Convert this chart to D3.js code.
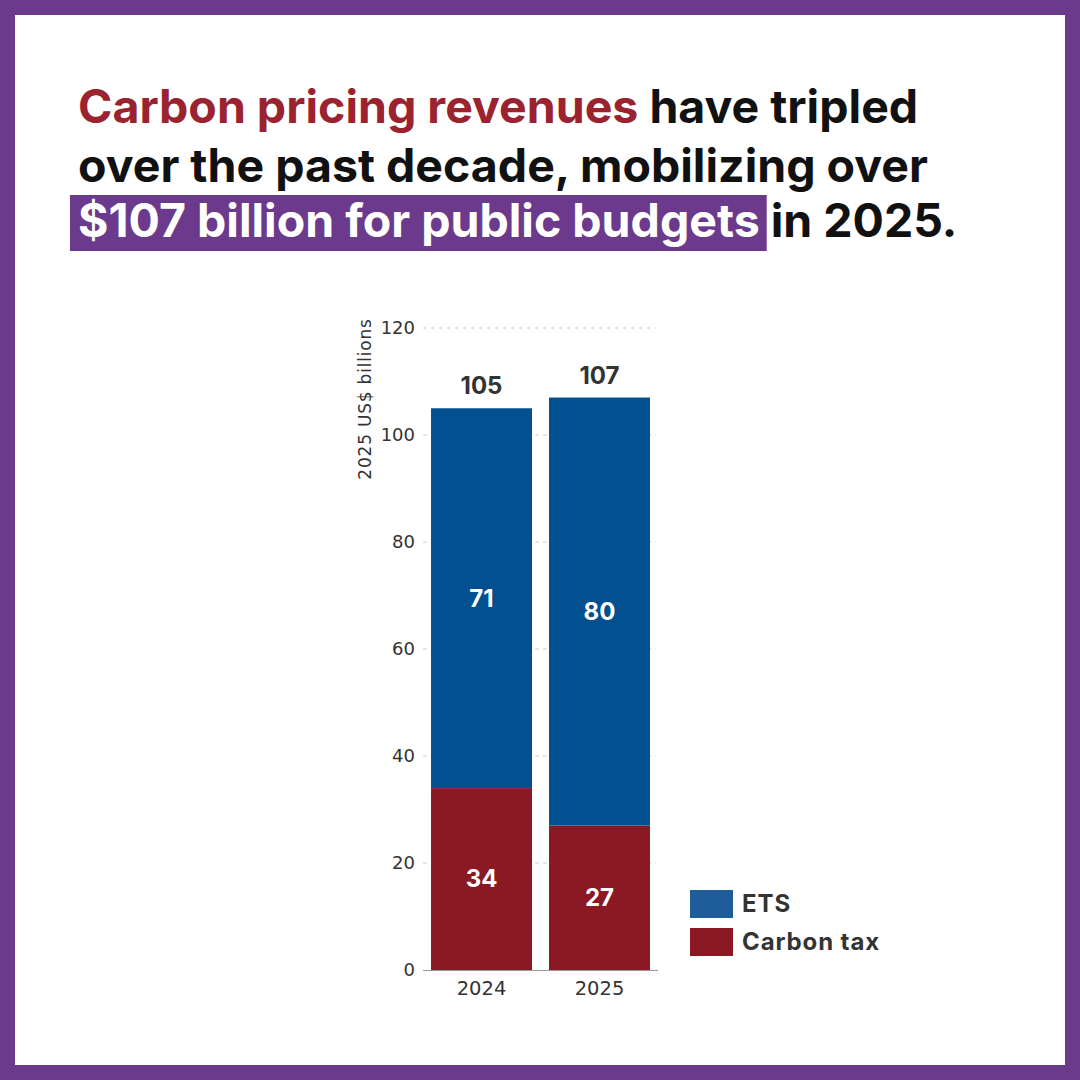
<!DOCTYPE html>
<html>
<head>
<meta charset="utf-8">
<script src="https://cdn.jsdelivr.net/npm/d3@7"></script>
<style>
  body { margin: 0; background: #fff; }
  svg { display: block; }
</style>
</head>
<body>
<div id="chart"></div>
<script>
// data
var years = ['2024', '2025'];
var carbonTax = [34, 27];
var ets = [71, 80];
var totals = [105, 107];
var yTicks = [0, 20, 40, 60, 80, 100, 120];
var seriesNames = ['ETS', 'Carbon tax'];

var W = 1080, H = 1080;
var purple = '#6c3a8c';
var red = '#8a1924';
var blue = '#02508f';
var font = 'Inter, "Open Sans", sans-serif';
var axisFont = '"DejaVu Sans", sans-serif';

var svg = d3.select('#chart').append('svg')
	.attr('width', W)
	.attr('height', H);

// purple frame
svg.append('rect').attr('width', W).attr('height', H).attr('fill', purple);
svg.append('rect').attr('x', 15).attr('y', 15).attr('width', W - 30).attr('height', H - 30).attr('fill', '#fff');

// title
var title = svg.append('g').attr('font-family', font).attr('font-weight', 700).attr('font-size', 46.5);
var l1 = title.append('text').attr('x', 78).attr('y', 123);
l1.append('tspan').attr('fill', '#9b2330').text('Carbon pricing revenues');
l1.append('tspan').attr('fill', '#111').text(' have tripled');
title.append('text').attr('x', 78).attr('y', 182).attr('fill', '#111')
	.text('over the past decade, mobilizing over');
var hlRect = title.append('rect').attr('fill', purple).attr('x', 70).attr('y', 195).attr('height', 56);
var hl = title.append('text').attr('x', 78).attr('y', 237).attr('fill', '#fff')
	.text('$107 billion for public budgets');
var hlW = hl.node().getComputedTextLength();
hlRect.attr('width', hlW + 15);
title.append('text').attr('x', 78 + hlW + 11).attr('y', 237).attr('fill', '#111')
	.text('in 2025.');

// chart
var y = d3.scaleLinear().domain([0, 120]).range([970, 328]);
var x = d3.scaleBand().domain(years).range([423, 658]).paddingInner(0.144).paddingOuter(0.068);

var grid = svg.append('g');
grid.selectAll('line')
	.data(yTicks.filter(function(d){ return d > 0; })).enter()
	.append('line')
	.attr('x1', 423).attr('x2', 656)
	.attr('y1', function(d){ return y(d); })
	.attr('y2', function(d){ return y(d); })
	.attr('stroke', '#cfcfcf')
	.attr('stroke-width', 1)
	.attr('stroke-dasharray', '4,4');

var yAxis = svg.append('g')
	.attr('transform', 'translate(423,0)')
	.call(d3.axisLeft(y).tickValues(yTicks).tickSize(0).tickPadding(8));
yAxis.select('.domain').remove();
yAxis.selectAll('text')
	.attr('font-family', axisFont).attr('font-size', 18).attr('fill', '#333');

svg.append('text')
	.attr('transform', 'translate(371,399) rotate(-90)')
	.attr('text-anchor', 'middle')
	.attr('font-family', axisFont).attr('font-size', 17).attr('fill', '#333')
	.attr('letter-spacing', 0.8)
	.text('2025 US$ billions');

var stackData = years.map(function(yr, i){ return { year: yr, tax: carbonTax[i], ets: ets[i], total: totals[i] }; });
var stack = d3.stack().keys(['tax', 'ets'])(stackData);
var colors = { tax: red, ets: blue };

var layers = svg.selectAll('g.layer')
	.data(stack).enter()
	.append('g').attr('class', 'layer')
	.attr('fill', function(d){ return colors[d.key]; });
layers.selectAll('rect')
	.data(function(d){ return d; }).enter()
	.append('rect')
	.attr('x', function(d){ return x(d.data.year); })
	.attr('width', x.bandwidth())
	.attr('y', function(d){ return y(d[1]); })
	.attr('height', function(d){ return y(d[0]) - y(d[1]); });
layers.selectAll('text')
	.data(function(d){ return d; }).enter()
	.append('text')
	.attr('x', function(d){ return x(d.data.year) + x.bandwidth()/2; })
	.attr('y', function(d){ return (y(d[0]) + y(d[1]))/2; })
	.attr('dy', '0.35em')
	.attr('text-anchor', 'middle')
	.attr('fill', '#fff')
	.attr('font-family', font).attr('font-weight', 700).attr('font-size', 24)
	.text(function(d){ return d[1] - d[0]; });

// totals
svg.selectAll('text.total')
	.data(stackData).enter()
	.append('text').attr('class', 'total')
	.attr('x', function(d){ return x(d.year) + x.bandwidth()/2; })
	.attr('y', function(d){ return y(d.total) - 14; })
	.attr('text-anchor', 'middle')
	.attr('fill', '#333')
	.attr('font-family', font).attr('font-weight', 700).attr('font-size', 24)
	.text(function(d){ return d.total; });

// x axis
var xAxis = svg.append('g')
	.attr('transform', 'translate(0,970)')
	.call(d3.axisBottom(x).tickSize(0).tickPadding(11));
xAxis.select('.domain').attr('stroke', '#999').attr('d', 'M423,0.5H658');
xAxis.selectAll('text')
	.attr('font-family', axisFont).attr('font-size', 19.5).attr('fill', '#333');

// legend
var legend = svg.append('g').attr('transform', 'translate(690,890)');
var legColors = ['#1f5c9a', red];
var items = legend.selectAll('g')
	.data(seriesNames).enter()
	.append('g')
	.attr('transform', function(d, i){ return 'translate(0,' + i*38 + ')'; });
items.append('rect')
	.attr('width', 43).attr('height', 28)
	.attr('fill', function(d, i){ return legColors[i]; });
items.append('text')
	.attr('x', 52).attr('y', 14).attr('dy', '0.35em')
	.attr('fill', '#333')
	.attr('font-family', font).attr('font-weight', 700).attr('font-size', 24)
	.attr('letter-spacing', 0.9)
	.text(function(d){ return d; });
</script>
</body>
</html>
